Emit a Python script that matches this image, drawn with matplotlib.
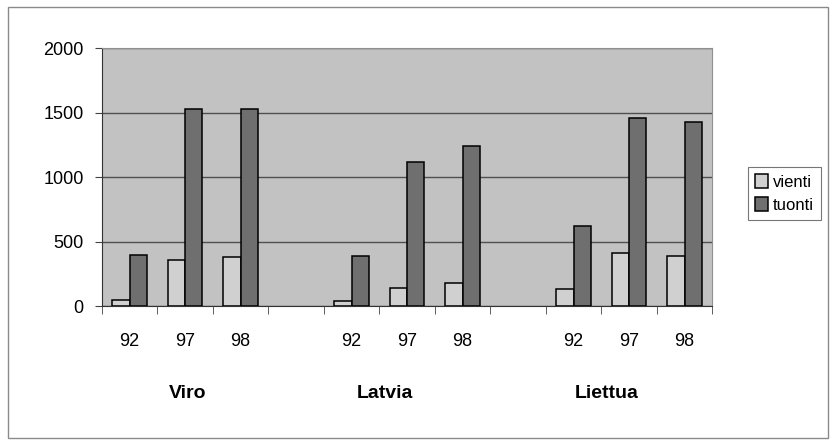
import numpy as np
import matplotlib
matplotlib.use("Agg")
import matplotlib.pyplot as plt
from matplotlib.patches import Rectangle

plt.rcParams['font.family'] = ['Liberation Sans', 'DejaVu Sans']

# data: 3 countries x 3 years, blank slot between groups
countries = ['Viro', 'Latvia', 'Liettua']
years = ['92', '97', '98']
vienti = [45, 355, 380, 40, 140, 180, 130, 410, 390]
tuonti = [395, 1525, 1525, 390, 1115, 1240, 620, 1455, 1425]
yticks = [0, 500, 1000, 1500, 2000]

# category slots: 92 97 98 _ 92 97 98 _ 92 97 98
slots = [0, 1, 2, 4, 5, 6, 8, 9, 10]
labels = years + [''] + years + [''] + years

fig = plt.figure(figsize=(8.35, 4.45), dpi=100)
fig.patches.append(Rectangle((0.010, 0.016), 0.982, 0.968, transform=fig.transFigure,
                             fill=False, edgecolor='#8a8a8a', linewidth=1.0))
ax = fig.add_axes([0.122, 0.312, 0.731, 0.580])
ax.set_facecolor('#c2c2c2')

x = np.array(slots, dtype=float)
w = 0.31
ax.bar(x - w / 2, vienti, width=w, color='#d0d0d0', edgecolor='black', linewidth=1.1,
       label='vienti', zorder=3)
ax.bar(x + w / 2, tuonti, width=w, color='#6f6f6f', edgecolor='black', linewidth=1.1,
       label='tuonti', zorder=3)

ax.set_xlim(-0.5, 10.5)
ax.set_ylim(0, 2000)
ax.set_yticks(yticks)
ax.yaxis.grid(True, color='#505050', linewidth=1.0, zorder=1)
ax.tick_params(axis='y', labelsize=13, length=5, color='#444444', pad=8)

ax.set_xticks(np.arange(11))
ax.set_xticklabels(labels, fontsize=13)
ax.tick_params(axis='x', which='major', length=0, pad=19)
ax.set_xticks(np.arange(-0.5, 11, 1.0), minor=True)
ax.tick_params(axis='x', which='minor', length=6, color='#444444')

for s in ['top', 'right']:
    ax.spines[s].set_color('#909090')
for s in ['left', 'bottom']:
    ax.spines[s].set_color('#333333')

# country names under the year labels
country_x = [1.05, 4.6, 8.6]
for cx, name in zip(country_x, countries):
    ax.text(cx, -0.34, name, transform=ax.get_xaxis_transform(), ha='center', va='center',
            fontsize=14, fontweight='bold')

leg = ax.legend(loc='upper left', bbox_to_anchor=(1.045, 0.57), fontsize=12, frameon=True,
                fancybox=False, edgecolor='#555555', handlelength=0.8, handleheight=0.9,
                handletextpad=0.3, borderpad=0.4, labelspacing=0.45)
leg.get_frame().set_linewidth(0.8)

fig.savefig('out.png', dpi=100)
